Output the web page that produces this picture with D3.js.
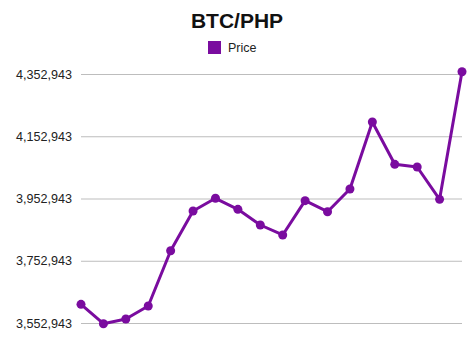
<!DOCTYPE html>
<html>
<head>
<meta charset="utf-8">
<script src="https://cdn.jsdelivr.net/npm/d3@7"></script>
<style>
  html, body { margin: 0; padding: 0; background: #fff; }
  svg { display: block; font-family: "Liberation Sans", Arial, Helvetica, sans-serif; }
</style>
</head>
<body>
<svg id="chart" width="474" height="355"></svg>
<script>
// data
var labels = d3.range(1, 19)
var prices = [3613000, 3550700, 3565800, 3607600, 3785200, 3912800, 3953600, 3918200, 3867800,
              3835700, 3945900, 3910500, 3983500, 4198700, 4062800, 4054100, 3950300, 4360300]
var ticks = [3552943, 3752943, 3952943, 4152943, 4352943]
var title = 'BTC/PHP'
var seriesName = 'Price'

var purple = '#7a0c9f'
var svg = d3.select('#chart')

var x = d3.scalePoint().domain(labels).range([81, 462])
var y = d3.scaleLinear().domain([3552943, 4352943]).range([323, 74])

// grid + labels
var yAxis = d3.axisLeft(y)
    .tickValues(ticks)
    .tickFormat(d3.format(','))
    .tickSize(-(462 - 81))
    .tickPadding(9)

var g = svg.append('g').attr('transform', 'translate(81,0)').call(yAxis)
g.select('.domain').remove()
g.selectAll('.tick line').attr('stroke', '#bdbdbd').attr('stroke-width', 1)
g.selectAll('.tick text').attr('fill', '#222').attr('font-size', 12.6)
    .attr('font-family', '"Liberation Sans", Arial, sans-serif')

// title
svg.append('text')
    .attr('x', 237).attr('y', 28)
    .attr('text-anchor', 'middle')
    .attr('font-size', 21).attr('font-weight', 'bold')
    .attr('fill', '#111')
    .text(title)

// legend
svg.append('rect').attr('x', 208).attr('y', 41).attr('width', 13).attr('height', 13).attr('fill', purple)
svg.append('text').attr('x', 228).attr('y', 52).attr('font-size', 12.5).attr('fill', '#222').text(seriesName)

// line
var line = d3.line()
    .x((d, i) => x(labels[i]))
    .y(d => y(d))

svg.append('path')
    .datum(prices)
    .attr('d', line)
    .attr('fill', 'none')
    .attr('stroke', purple)
    .attr('stroke-width', 3)
    .attr('stroke-linejoin', 'round')

svg.selectAll('circle.pt')
    .data(prices)
    .enter().append('circle')
    .attr('class', 'pt')
    .attr('cx', (d, i) => x(labels[i]))
    .attr('cy', d => y(d))
    .attr('r', 4.5)
    .attr('fill', purple)
</script>
</body>
</html>
